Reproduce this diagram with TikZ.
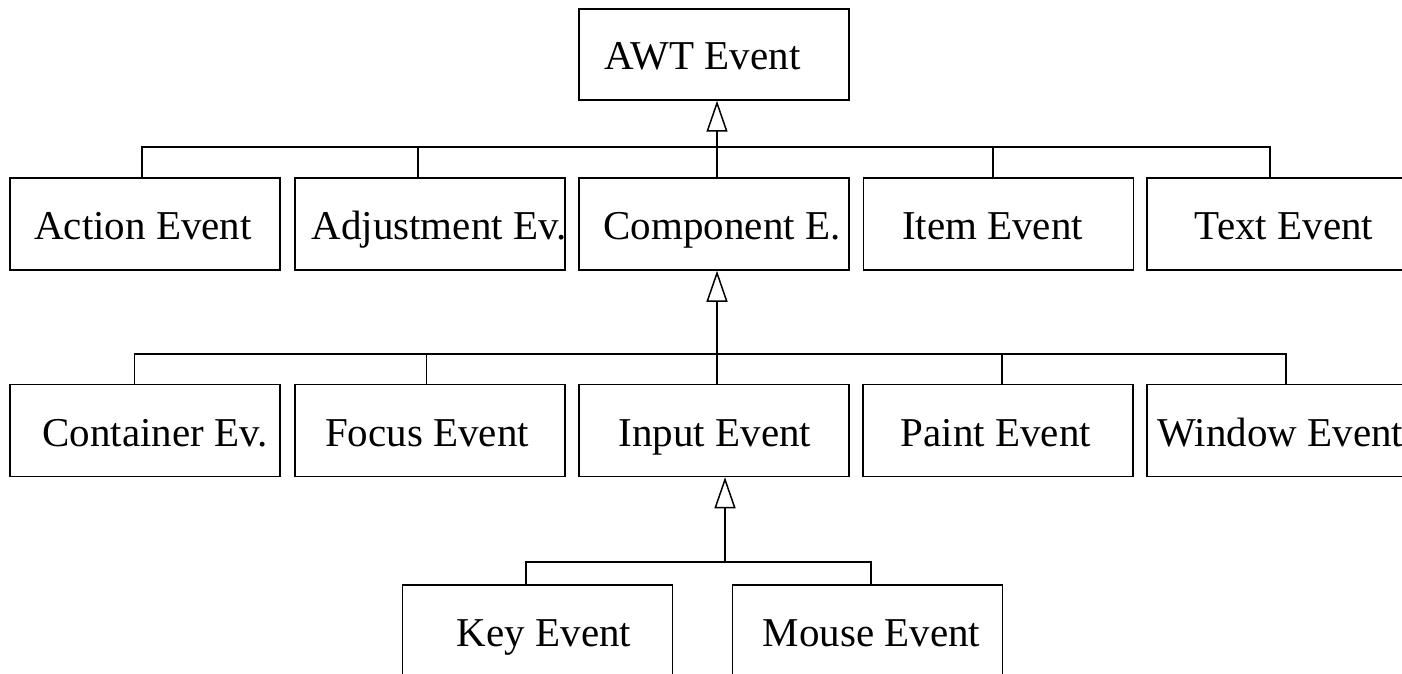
\documentclass[tikz,border=0pt]{standalone}
\usepackage{fontspec}
\setmainfont{Liberation Serif}
\usetikzlibrary{arrows.meta}
% label set in a zero-width box, moved sideways by #1 pt from the box centre
\newcommand\boxlabel[2]{\makebox[0pt]{\hspace*{#1pt}\hspace*{#1pt}#2}}
\begin{document}
\begin{tikzpicture}[x=1pt,y=-1pt,
  box/.style={draw, line width=1.5pt, minimum width=270pt, minimum height=92pt,
    inner sep=0pt, text height=31pt, text depth=0pt,
    font=\fontsize{41}{49}\selectfont},
  link/.style={line width=1.5pt},
  inh/.style={line width=1.5pt, -{Triangle[open, length=31pt, width=21pt, line width=1.5pt]}}]
\useasboundingbox (0,0) rectangle (1402,674);
\clip (0,0) rectangle (1402,674);

% root class
\node[box, minimum height=91pt] (awt) at (714,54.5) {\boxlabel{-11.5}{AWT Event}};

% first level
\node[box] (act)  at (145,224)    {\boxlabel{-2}{Action Event}};
\node[box] (adj)  at (430,224)    {\boxlabel{9}{Adjustment Ev.}};
\node[box] (comp) at (714,224)    {\boxlabel{8}{Component E.}};
\node[box] (item) at (998.5,224)  {\boxlabel{-6}{Item Event}};
\node[box] (text) at (1282,224)   {\boxlabel{2}{Text Event}};

% second level
\node[box] (cont) at (145,430.5)  {\boxlabel{10}{Container Ev.}};
\node[box] (foc)  at (430,430.5)  {\boxlabel{-3}{Focus Event}};
\node[box] (inp)  at (714,430.5)  {\boxlabel{1}{Input Event}};
\node[box] (pnt)  at (998,430.5)  {\boxlabel{-2}{Paint Event}};
\node[box] (win)  at (1282,430.5) {\boxlabel{-1.5}{Window Event}};

% third level
\node[box] (key)  at (537.5,631)  {\boxlabel{6.5}{Key Event}};
\node[box] (mou)  at (867.5,631)  {\boxlabel{4}{Mouse Event}};

% bus lines
\coordinate (bA) at (717,147);
\coordinate (bB) at (717,354);
\coordinate (bC) at (725,562);

% AWT Event subclasses
\draw[inh] (comp.north -| bA) -- (awt.south -| bA);
\draw[link] (act.north -| 142,0) |- (bA) -| (text.north -| 1270,0);
\draw[link] (adj.north -| 418,0) -- (418,147);
\draw[link] (item.north -| 993,0) -- (993,147);

% Component Event subclasses
\draw[inh] (inp.north -| bB) -- (comp.south -| bB);
\draw[link] (cont.north -| 134.5,0) |- (bB) -| (win.north -| 1286,0);
\draw[link] (foc.north -| 426.5,0) -- (426.5,354);
\draw[link] (pnt.north -| 1002,0) -- (1002,354);

% Input Event subclasses
\draw[inh] (bC) -- (inp.south -| bC);
\draw[link] (key.north -| 526,0) |- (bC) -| (mou.north -| 871,0);
\end{tikzpicture}
\end{document}
